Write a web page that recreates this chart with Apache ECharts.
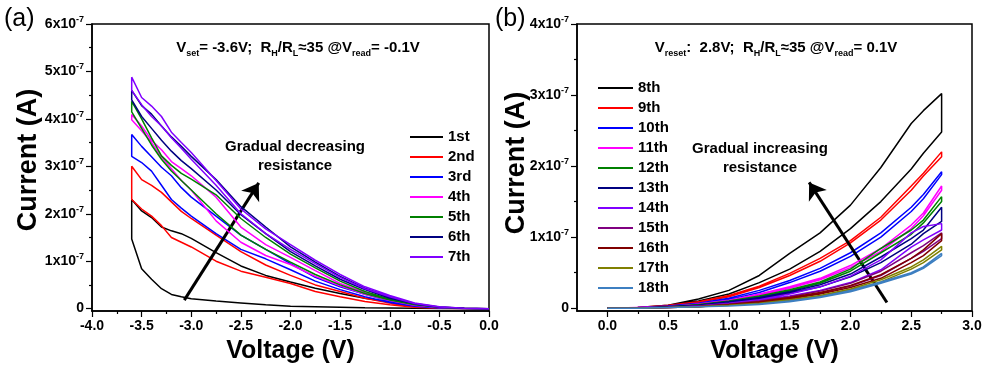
<!DOCTYPE html>
<html><head><meta charset="utf-8">
<script src="https://cdn.jsdelivr.net/npm/echarts@6/dist/echarts.min.js"></script>
<style>html,body{margin:0;padding:0;background:#fff}#c{width:989px;height:371px}</style>
</head><body><div id="c"></div>
<script>
// ---------- Panel (a): SET sweeps (current in units of 1e-7 A) ----------
const setVoltages = [0,-0.25,-0.5,-0.75,-1.0,-1.25,-1.5,-1.75,-2.0,-2.25,-2.5,-2.75,-3.0,-3.1,-3.2,-3.3,-3.4,-3.5,-3.6];
const setNames  = ['1st','2nd','3rd','4th','5th','6th','7th'];
const setColors = ['#000000','#ff0000','#0000ff','#ff00ff','#008000','#000080','#8000ff'];
// "Out" = sweep 0 -> -3.6 V, "Back" = sweep -3.6 -> 0 V (both listed on setVoltages)
const set1Out  = [0,0.002,0.005,0.01,0.015,0.02,0.03,0.04,0.05,0.08,0.12,0.16,0.21,0.25,0.3,0.42,0.62,0.84,1.47];
const set1Back = [0,0.005,0.025,0.07,0.14,0.22,0.32,0.43,0.56,0.7,0.9,1.18,1.48,1.58,1.64,1.72,1.92,2.06,2.3];
const set2Out  = [0,0.003,0.01,0.03,0.08,0.15,0.25,0.36,0.53,0.66,0.79,1.0,1.3,1.4,1.5,1.75,1.95,2.1,2.3];
const set2Back = [0,0.003,0.015,0.05,0.12,0.22,0.36,0.5,0.7,0.92,1.2,1.55,1.9,2.05,2.25,2.45,2.6,2.72,3.0];
const set3Out  = [0,0.004,0.015,0.05,0.13,0.25,0.4,0.58,0.82,1.05,1.25,1.58,1.95,2.12,2.3,2.6,2.9,3.08,3.21];
const set3Back = [0,0.004,0.02,0.07,0.16,0.3,0.46,0.66,0.95,1.25,1.55,1.95,2.35,2.55,2.8,2.98,3.2,3.42,3.67];
const set4Out  = [0,0.005,0.025,0.07,0.17,0.3,0.48,0.68,0.93,1.12,1.4,1.85,2.5,2.7,2.95,3.2,3.5,3.75,3.98];
const set4Back = [0,0.006,0.03,0.08,0.19,0.34,0.53,0.8,1.08,1.35,1.72,2.35,2.8,2.95,3.1,3.35,3.55,3.85,4.09];
const set5Out  = [0,0.005,0.028,0.08,0.18,0.32,0.5,0.72,0.98,1.25,1.55,2.0,2.5,2.7,2.9,3.15,3.45,3.8,4.15];
const set5Back = [0,0.006,0.03,0.09,0.2,0.36,0.58,0.86,1.15,1.5,1.9,2.4,2.73,2.85,3.02,3.22,3.6,4.0,4.37];
const set6Out  = [0,0.006,0.03,0.1,0.22,0.4,0.62,0.9,1.2,1.58,1.98,2.5,2.95,3.12,3.32,3.55,3.8,4.05,4.4];
const set6Back = [0,0.007,0.035,0.11,0.25,0.43,0.68,0.98,1.3,1.72,2.15,2.72,3.21,3.42,3.62,3.85,4.1,4.28,4.6];
const set7Out  = [0,0.008,0.035,0.11,0.25,0.42,0.66,0.95,1.25,1.58,2.0,2.6,3.15,3.38,3.6,3.85,4.05,4.3,4.6];
const set7Back = [0,0.008,0.04,0.12,0.28,0.46,0.72,1.02,1.35,1.68,2.1,2.7,3.29,3.5,3.72,4.05,4.27,4.45,4.88];

// ---------- Panel (b): RESET sweeps (current in units of 1e-7 A) ----------
const resetVoltages = [0,0.25,0.5,0.75,1.0,1.25,1.5,1.75,2.0,2.25,2.5,2.6,2.75];
const resetNames  = ['8th','9th','10th','11th','12th','13th','14th','15th','16th','17th','18th'];
const resetColors = ['#000000','#ff0000','#0000ff','#ff00ff','#008000','#000080','#8000ff','#800080','#800000','#808000','#3d7fc1'];
const reset8Out   = [0,0.01,0.04,0.13,0.25,0.46,0.77,1.06,1.45,1.98,2.6,2.78,3.02];
const reset8Back  = [0,0.01,0.04,0.1,0.2,0.36,0.55,0.8,1.12,1.5,1.96,2.18,2.48];
const reset9Out   = [0,0.01,0.04,0.09,0.18,0.31,0.49,0.7,0.95,1.28,1.72,1.9,2.2];
const reset9Back  = [0,0.01,0.03,0.08,0.16,0.29,0.46,0.66,0.92,1.24,1.66,1.86,2.13];
const reset10Out  = [0,0.01,0.03,0.07,0.14,0.25,0.39,0.56,0.78,1.06,1.42,1.6,1.92];
const reset10Back = [0,0.01,0.03,0.06,0.12,0.22,0.36,0.52,0.73,1.0,1.36,1.54,1.88];
const reset11Out  = [0,0.01,0.02,0.06,0.11,0.2,0.3,0.42,0.6,0.84,1.17,1.34,1.72];
const reset11Back = [0,0.01,0.02,0.05,0.1,0.18,0.28,0.4,0.57,0.8,1.12,1.3,1.66];
const reset12Out  = [0,0,0.02,0.05,0.1,0.17,0.26,0.37,0.55,0.84,1.1,1.24,1.57];
const reset12Back = [0,0,0.02,0.04,0.09,0.15,0.24,0.35,0.52,0.78,1.04,1.2,1.5];
const reset13Out  = [0,0,0.02,0.04,0.09,0.15,0.23,0.33,0.48,0.72,0.98,1.1,1.42];
const reset13Back = [0,0,0.02,0.04,0.08,0.13,0.21,0.3,0.44,0.64,0.9,1.05,1.22];
const reset14Out  = [0,0,0.01,0.03,0.07,0.12,0.2,0.3,0.45,0.68,1.06,1.15,1.19];
const reset14Back = [0,0,0.01,0.03,0.06,0.11,0.17,0.25,0.36,0.54,0.86,0.96,1.1];
const reset15Out  = [0,0,0.01,0.03,0.06,0.1,0.16,0.24,0.35,0.52,0.78,0.88,1.06];
const reset15Back = [0,0,0.01,0.02,0.05,0.09,0.14,0.21,0.31,0.46,0.7,0.8,0.98];
const reset16Out  = [0,0,0.01,0.02,0.05,0.09,0.15,0.22,0.32,0.47,0.7,0.82,1.05];
const reset16Back = [0,0,0.01,0.02,0.05,0.08,0.13,0.2,0.29,0.42,0.64,0.74,0.95];
const reset17Out  = [0,0,0.01,0.02,0.04,0.07,0.12,0.18,0.27,0.4,0.58,0.68,0.87];
const reset17Back = [0,0,0.01,0.02,0.04,0.07,0.11,0.17,0.25,0.37,0.55,0.64,0.82];
const reset18Out  = [0,0,0.01,0.02,0.03,0.06,0.1,0.16,0.25,0.37,0.5,0.58,0.77];
const reset18Back = [0,0,0.01,0.02,0.03,0.05,0.09,0.15,0.23,0.35,0.48,0.56,0.74];

// ---------- Tick labels ----------
const setXTicks   = [-4.0,-3.5,-3.0,-2.5,-2.0,-1.5,-1.0,-0.5,0.0];
const setYTicks   = [0,1,2,3,4,5,6];
const resetXTicks = [0.0,0.5,1.0,1.5,2.0,2.5,3.0];
const resetYTicks = [0,1,2,3,4];

const setPairs = [[set1Out,set1Back],[set2Out,set2Back],[set3Out,set3Back],[set4Out,set4Back],[set5Out,set5Back],[set6Out,set6Back],[set7Out,set7Back]];
const resetPairs = [[reset8Out,reset8Back],[reset9Out,reset9Back],[reset10Out,reset10Back],[reset11Out,reset11Back],[reset12Out,reset12Back],[reset13Out,reset13Back],[reset14Out,reset14Back],[reset15Out,reset15Back],[reset16Out,reset16Back],[reset17Out,reset17Back],[reset18Out,reset18Back]];

function loop(volts, out, back) {
  const d = volts.map((v, i) => [v, out[i]]);
  for (let i = volts.length - 1; i >= 0; i--) d.push([volts[i], back[i]]);
  return d;
}

const FONT = '"Liberation Sans", Arial, sans-serif';
const AX = '#000';
function yFmt(v) { return v === 0 ? '{n|0}' : '{n|' + v + 'x10}{s|-7}'; }
const yRich = {
  n: { fontSize: 14, fontWeight: 'bold', fontFamily: FONT, color: '#000', lineHeight: 18, verticalAlign: 'middle' },
  s: { fontSize: 9, fontWeight: 'bold', fontFamily: FONT, color: '#000', lineHeight: 10, verticalAlign: 'top' }
};
const grids = [
  { left: 92, top: 24, width: 397, height: 287, show: true, borderColor: AX, borderWidth: 1.5, backgroundColor: 'transparent' },
  { left: 577, top: 24, width: 395, height: 287, show: true, borderColor: AX, borderWidth: 1.5, backgroundColor: 'transparent' }
];
function mkX(grid, min, max, ticks, minorTicks, name) {
  return [{
    type: 'value', gridIndex: grid, min, max, position: 'bottom',
    axisLine: { onZero: false, lineStyle: { color: AX, width: 1.5 } },
    axisTick: { customValues: ticks, length: 6, lineStyle: { color: AX, width: 1.2 } },
    axisLabel: { customValues: ticks, formatter: v => v.toFixed(1), margin: 8, fontSize: 14, fontWeight: 'bold', fontFamily: FONT, color: '#000' },
    splitLine: { show: false },
    name, nameLocation: 'middle', nameGap: 28,
    nameTextStyle: { fontSize: 25, fontWeight: 'bold', fontFamily: FONT, color: '#000', verticalAlign: 'top' }
  }, {
    type: 'value', gridIndex: grid, min, max, position: 'bottom',
    axisLine: { show: false, onZero: false },
    axisTick: { customValues: minorTicks, length: 3, lineStyle: { color: AX, width: 1.2 } },
    axisLabel: { show: false }, splitLine: { show: false }
  }];
}
function mkY(grid, min, max, ticks, minorTicks) {
  return [{
    type: 'value', gridIndex: grid, min, max, position: 'left',
    axisLine: { onZero: false, lineStyle: { color: AX, width: 1.5 } },
    axisTick: { customValues: ticks, length: 6, lineStyle: { color: AX, width: 1.2 } },
    axisLabel: { customValues: ticks, formatter: yFmt, rich: yRich, margin: 8 },
    splitLine: { show: false }
  }, {
    type: 'value', gridIndex: grid, min, max, position: 'left',
    axisLine: { show: false, onZero: false },
    axisTick: { customValues: minorTicks, length: 3, lineStyle: { color: AX, width: 1.2 } },
    axisLabel: { show: false }, splitLine: { show: false }
  }];
}
const xAxes = [
  ...mkX(0, -4, 0, setXTicks, [-3.75,-3.25,-2.75,-2.25,-1.75,-1.25,-0.75,-0.25], 'Voltage (V)'),
  ...mkX(1, -0.25, 3, resetXTicks, [0.25,0.75,1.25,1.75,2.25,2.75], 'Voltage (V)')
];
const yAxes = [
  ...mkY(0, -0.05, 6, setYTicks, [0.5,1.5,2.5,3.5,4.5,5.5]),
  ...mkY(1, -0.04, 4, resetYTicks, [0.5,1.5,2.5,3.5])
];

const series = [];
setPairs.forEach((p, i) => {
  series.push({
    name: setNames[i], type: 'line', xAxisIndex: 0, yAxisIndex: 0, symbol: 'none',
    data: loop(setVoltages, p[0], p[1]), color: setColors[i],
    lineStyle: { width: 1.5, color: setColors[i] }, z: 2 + i
  });
});
resetPairs.forEach((p, i) => {
  series.push({
    name: resetNames[i], type: 'line', xAxisIndex: 2, yAxisIndex: 2, symbol: 'none',
    data: loop(resetVoltages, p[0], p[1]), color: resetColors[i],
    lineStyle: { width: 1.5, color: resetColors[i] }, z: 2 + i
  });
});
// arrows (annotations, in data coordinates)
const arrowStyle = { symbol: ['none', 'arrow'], symbolSize: 16, silent: true, label: { show: false },
  lineStyle: { color: '#000', width: 3, type: 'solid' }, itemStyle: { color: '#000' }, emphasis: { disabled: true } };
series[0].markLine = Object.assign({ data: [[{ coord: [-3.07, 0.18] }, { coord: [-2.32, 2.65] }]] }, arrowStyle);
series[7].markLine = Object.assign({ data: [[{ coord: [2.30, 0.08] }, { coord: [1.66, 1.77] }]] }, arrowStyle);

const legendText = { fontSize: 15, fontWeight: 'bold', fontFamily: FONT, color: '#000', lineHeight: 16 };
const legends = [
  { data: setNames, orient: 'vertical', left: 405, top: 124, icon: 'rect', itemWidth: 33, itemHeight: 2, itemGap: 4, textStyle: legendText, selectedMode: false },
  { data: resetNames, orient: 'vertical', left: 593, top: 75, icon: 'rect', itemWidth: 35, itemHeight: 2, itemGap: 4, textStyle: legendText, selectedMode: false }
];

const noteRich = {
  m: { fontSize: 15, fontWeight: 'bold', fontFamily: FONT, color: '#000', lineHeight: 20, verticalAlign: 'middle' },
  b: { fontSize: 9, fontWeight: 'bold', fontFamily: FONT, color: '#000', lineHeight: 10, verticalAlign: 'bottom' }
};
function txt(x, y, text, rich, align) {
  return { type: 'text', x, y, silent: true, style: { text, rich, align: align || 'center', verticalAlign: 'middle', fill: '#000' } };
}
const bodyStyle = { fontSize: 15, fontWeight: 'bold', fontFamily: FONT, fill: '#000', align: 'center', verticalAlign: 'middle', lineHeight: 19 };
const titleStyle = { text: 'Current (A)', fontSize: 27, fontWeight: 'bold', fontFamily: FONT, fill: '#000', align: 'center', verticalAlign: 'middle' };
const graphics = [
  { type: 'text', x: 4, y: 19, silent: true, style: { text: '(a)', fontSize: 25, fontFamily: '"Liberation Sans", Arial', fill: '#000', verticalAlign: 'middle' } },
  { type: 'text', x: 495, y: 19, silent: true, style: { text: '(b)', fontSize: 25, fontFamily: '"Liberation Sans", Arial', fill: '#000', verticalAlign: 'middle' } },
  { type: 'text', x: 29, y: 160, rotation: Math.PI / 2, silent: true, style: Object.assign({}, titleStyle) },
  { type: 'text', x: 517, y: 163, rotation: Math.PI / 2, silent: true, style: Object.assign({}, titleStyle) },
  txt(298, 48, '{m|V}{b|set}{m|= -3.6V;  R}{b|H}{m|/R}{b|L}{m|≈35 @V}{b|read}{m|= -0.1V}', noteRich),
  txt(776, 48, '{m|V}{b|reset}{m|:  2.8V;  R}{b|H}{m|/R}{b|L}{m|≈35 @V}{b|read}{m|= 0.1V}', noteRich),
  { type: 'text', x: 295, y: 156, silent: true, style: Object.assign({ text: 'Gradual decreasing\nresistance' }, bodyStyle) },
  { type: 'text', x: 760, y: 158, silent: true, style: Object.assign({ text: 'Gradual increasing\nresistance' }, bodyStyle) }
];

const chart = echarts.init(document.getElementById('c'), null, { renderer: 'canvas' });
chart.setOption({
  animation: false,
  backgroundColor: '#fff',
  grid: grids, xAxis: xAxes, yAxis: yAxes, series, legend: legends, graphic: graphics
});
</script></body></html>
